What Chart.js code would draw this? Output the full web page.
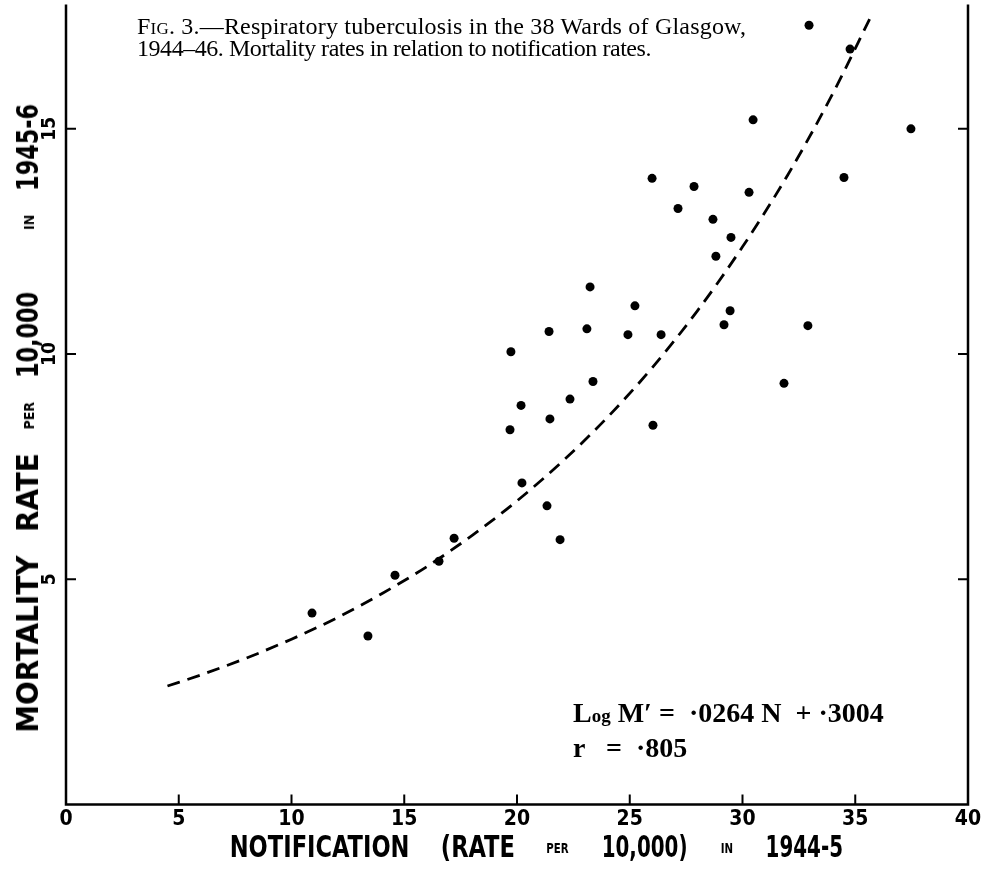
<!DOCTYPE html>
<html>
<head>
    <title>Fig. 3 - Respiratory tuberculosis, Glasgow</title>
    <script src="https://cdn.jsdelivr.net/npm/chart.js"></script>
    <style>
        body { margin: 0; background: #fff; }
        #wrap { position: relative; width: 985px; height: 869px; }
        #plot { position: absolute; left: 0; top: 0; }
        .caption {
            position: absolute; left: 137px; top: 15px;
            font-family: "Liberation Serif", serif; font-size: 24px; line-height: 22px;
            color: #000; letter-spacing: 0.2px; white-space: nowrap;
        }
        .caption .l2 { letter-spacing: -0.45px; }
        .eqn {
            position: absolute; left: 573px;
            font-family: "Liberation Serif", serif; font-weight: bold; font-size: 28px;
            color: #000; white-space: nowrap;
        }
        .axtitle {
            position: absolute; white-space: nowrap; color: #000;
            font-family: "Liberation Sans Narrow", "DejaVu Sans Condensed", sans-serif;
            font-weight: bold; font-size: 31px;
        }
        .axtitle small { font-size: 14px; word-spacing: 0; vertical-align: 4px; }
        /* the digits in the original are narrower than the letters */
        .axtitle .dg { display: inline-block; transform: scaleX(0.88); margin: 0 -5px; }
        #ytitle .dg { transform: scaleX(0.8); margin: 0 -10.5px; }
    </style>
</head>
<body>
<div id="wrap">
    <canvas id="plot" width="985" height="869"></canvas>
    <div class="caption">F<span style="font-variant: small-caps;">ig</span>. 3.—Respiratory tuberculosis in the 38 Wards of Glasgow,<br><span class="l2">1944–46. Mortality rates in relation to notification rates.</span></div>
    <div class="eqn" style="top: 697px;">L<span style="font-size:19px;">og</span> M′ = &nbsp;·0264 N &nbsp;+ ·3004</div>
    <div class="eqn" style="top: 732px;">r &nbsp;&nbsp;= &nbsp;·805</div>
    <div class="axtitle" id="xtitle" style="left: 537px; top: 846px; word-spacing: 29px; transform: translate(-50%, -50%) scaleX(0.81);">NOTIFICATION (RATE <small>PER</small> <span class="dg">10,000)</span> <small>IN</small> <span class="dg">1944-5</span></div>
    <div class="axtitle" id="ytitle" style="left: 27px; top: 418px; word-spacing: 14px; transform: translate(-50%, -50%) rotate(-90deg);">MORTALITY RATE <small>PER</small> <span class="dg">10,000</span> <small style="margin-left: 38px;">IN</small> <span class="dg">1945-6</span></div>
</div>

<script>
    // ward values: notification rate (x) and mortality rate (y)
    const notification = [32.95, 34.77, 37.47, 30.47, 25.99, 27.85, 30.29, 34.5, 27.14, 28.69,
        29.49, 28.82, 23.24, 25.23, 29.45, 21.42, 23.1, 24.92, 26.39, 29.18,
        32.9, 19.73, 23.37, 20.18, 22.35, 21.46, 19.69, 26.03, 20.22, 21.33,
        21.91, 17.21, 16.54, 14.59, 10.91, 13.39, 31.84];
    const mortality = [17.3, 16.77, 15.0, 15.2, 13.9, 13.72, 13.59, 13.92, 13.23, 12.99,
        12.59, 12.17, 11.49, 11.07, 10.96, 10.5, 10.56, 10.43, 10.43, 10.65,
        10.63, 10.05, 9.39, 8.86, 9.0, 8.56, 8.32, 8.42, 7.14, 6.63,
        5.88, 5.91, 5.4, 5.09, 4.25, 3.74, 9.35];

    // fitted curve (dashed), read along its path
    const curveN = [4.5, 6, 8, 10, 12, 14, 16, 18, 20, 22, 24, 26, 28, 30, 32, 34, 35.7];
    const curveM = [2.63, 2.88, 3.25, 3.67, 4.14, 4.68, 5.28, 5.97, 6.74, 7.61, 8.59, 9.7, 10.96, 12.38, 13.97, 15.78, 17.5];

    const xTicks = [0, 5, 10, 15, 20, 25, 30, 35, 40];
    const yTicks = [5, 10, 15];

    const tickFont = '"Liberation Sans Narrow", "DejaVu Sans Condensed", sans-serif';

    // axes, inward tick marks and sideways y labels
    const frame = {
        id: 'frame',
        afterDraw(chart) {
            const c = chart.ctx, a = chart.chartArea;
            const xs = chart.scales.x, ys = chart.scales.y;
            c.save();
            c.strokeStyle = '#000';
            c.lineWidth = 2.5;
            c.beginPath();
            c.moveTo(a.left, a.top); c.lineTo(a.left, a.bottom);
            c.lineTo(a.right, a.bottom); c.lineTo(a.right, a.top);
            c.stroke();
            c.lineWidth = 2;
            c.beginPath();
            xTicks.forEach(v => {
                if (v === 0 || v === 40) return;
                const px = xs.getPixelForValue(v);
                c.moveTo(px, a.bottom); c.lineTo(px, a.bottom - 10);
            });
            yTicks.forEach(v => {
                const py = ys.getPixelForValue(v);
                c.moveTo(a.left, py); c.lineTo(a.left + 10, py);
                c.moveTo(a.right, py); c.lineTo(a.right - 10, py);
            });
            c.stroke();
            c.fillStyle = '#000';
            c.font = 'bold 19px ' + tickFont;
            c.textAlign = 'center';
            c.textBaseline = 'middle';
            yTicks.forEach(v => {
                const py = ys.getPixelForValue(v);
                c.save();
                c.translate(a.left - 16, py);
                c.rotate(-Math.PI / 2);
                c.fillText(String(v), 0, 0);
                c.restore();
            });
            c.restore();
        }
    };

    const points = notification.map((n, i) => ({ x: n, y: mortality[i] }));
    const curve = curveN.map((n, i) => ({ x: n, y: curveM[i] }));

    new Chart(document.getElementById('plot'), {
        type: 'scatter',
        data: {
            datasets: [
                {
                    label: 'Wards',
                    data: points,
                    pointRadius: 4.5,
                    pointBackgroundColor: '#000',
                    pointBorderWidth: 0
                },
                {
                    label: 'Fitted curve',
                    data: curve,
                    showLine: true,
                    borderColor: '#000',
                    borderWidth: 2.8,
                    borderDash: [13, 8],
                    pointRadius: 0,
                    cubicInterpolationMode: 'monotone'
                }
            ]
        },
        options: {
            responsive: false,
            animation: false,
            events: [],
            layout: { padding: { left: 0, right: 17, top: 0, bottom: 0 } },
            plugins: { legend: { display: false }, tooltip: { enabled: false } },
            scales: {
                x: {
                    type: 'linear', min: 0, max: 40,
                    grid: { display: false, drawTicks: false },
                    border: { display: false },
                    afterBuildTicks: s => { s.ticks = xTicks.map(v => ({ value: v })); },
                    afterFit: s => { s.height = 64.5; },
                    ticks: {
                        padding: 2, color: '#000', maxRotation: 0,
                        font: { family: tickFont, size: 21, weight: 'bold' }
                    }
                },
                y: {
                    type: 'linear', min: 0, max: 17.76,
                    grid: { display: false, drawTicks: false },
                    border: { display: false },
                    afterFit: s => { s.width = 66; },
                    ticks: { display: false, stepSize: 5 }
                }
            }
        },
        plugins: [frame]
    });
</script>
</body>
</html>
